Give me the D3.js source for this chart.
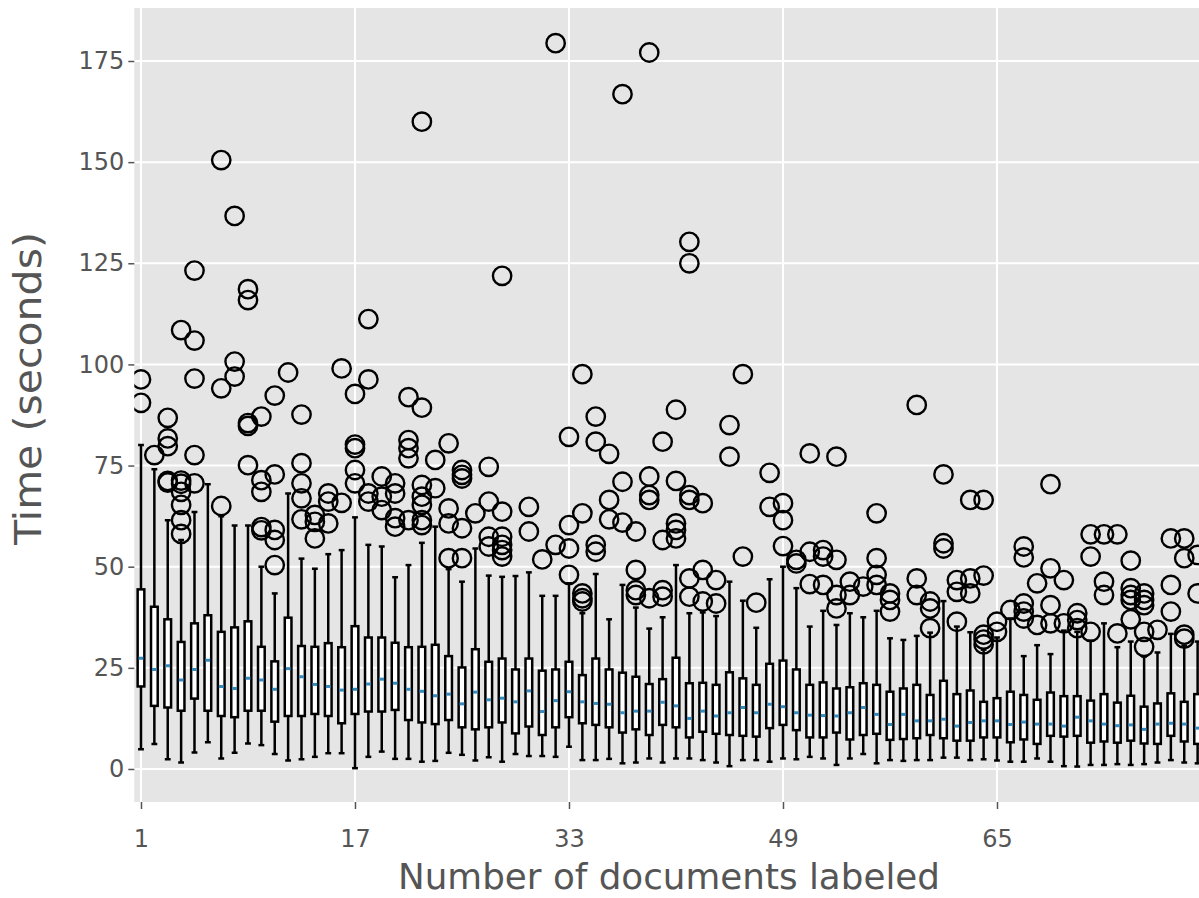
<!DOCTYPE html>
<html><head><meta charset="utf-8">
<script src="https://cdn.jsdelivr.net/npm/d3@7"></script>
<style>body{margin:0;background:#fff}svg{display:block}</style>
</head><body>
<svg id="chart" width="1199" height="898"></svg>
<script>
const positions = d3.range(1, 81);
const whiskerHigh = [80.1,74.1,61.5,56.6,63.5,70.4,62.5,60.2,60.2,50.0,43.4,68.1,52.0,49.5,53.1,54.1,62.2,55.4,55.0,47.4,50.4,55.9,59.9,49.4,46.3,54.5,47.8,47.5,47.7,48.6,42.8,42.8,45.9,38.5,48.2,37.0,45.5,39.9,34.7,37.5,50.4,38.5,38.7,37.8,46.3,41.6,34.9,46.9,50.0,44.7,35.2,39.1,35.6,38.5,37.5,39.1,32.3,31.9,32.9,33.7,41.5,35.2,33.8,29.5,32.5,37.2,27.9,30.6,28.4,34.2,33.9,31.7,36.0,30.1,31.5,27.8,28.8,33.4,30.5,31.5];
const q3 = [44.4,40.1,37.0,31.4,36.0,38.0,33.9,35.0,36.5,30.2,26.6,37.4,30.4,30.2,31.1,30.1,35.3,32.5,32.5,31.2,30.1,30.2,30.7,27.9,25.1,29.6,26.5,27.3,24.6,27.3,24.3,24.6,26.5,23.2,27.3,24.6,23.8,22.8,21.0,22.2,27.5,21.2,21.3,20.8,23.9,22.4,20.8,26.0,26.8,24.6,20.8,21.4,19.9,20.2,21.2,20.8,19.1,19.9,20.8,18.3,21.8,18.5,19.4,16.6,17.5,19.1,18.3,17.1,18.9,18.0,18.0,16.9,18.5,16.4,18.1,15.4,16.2,18.7,16.6,18.5];
const medians = [27.4,24.6,25.5,22.0,24.6,26.9,20.4,19.9,22.4,22.0,19.7,24.8,22.8,20.9,20.4,19.5,19.7,21.0,22.2,21.2,19.7,19.2,18.1,18.5,16.1,19.0,17.1,17.5,16.6,19.3,14.2,16.9,19.1,16.6,16.2,16.0,13.9,14.3,14.3,16.5,15.6,12.5,14.3,13.1,13.9,15.2,13.9,16.0,15.4,13.9,13.3,13.2,13.1,13.9,15.2,13.5,11.0,13.5,11.9,11.9,12.3,10.6,11.5,11.9,11.9,11.0,11.6,11.1,11.1,10.6,12.8,11.9,11.1,10.7,10.9,9.8,11.1,11.3,11.1,10.1];
const q1 = [20.4,15.6,15.2,14.4,17.4,14.4,13.1,12.8,14.4,14.4,11.7,13.1,13.1,13.6,13.1,11.3,13.6,14.2,14.2,14.6,12.1,11.5,11.1,12.1,10.3,9.8,10.3,11.5,8.8,10.5,8.4,10.3,12.8,11.3,10.9,10.3,9.0,9.8,8.4,10.9,10.3,7.8,9.2,8.7,8.4,8.2,8.0,10.1,10.9,9.6,7.8,7.8,9.0,7.3,8.4,8.7,7.2,7.4,7.6,8.4,7.6,7.0,7.0,7.8,7.8,6.6,7.3,6.2,8.2,8.0,8.2,6.5,6.8,6.5,7.0,6.3,6.2,8.2,6.8,6.2];
const whiskerLow = [4.9,6.2,2.4,1.6,4.1,6.6,2.6,4.0,6.3,5.9,3.7,2.1,2.4,3.0,3.9,3.9,0.2,3.0,4.3,2.5,2.5,1.8,2.0,4.0,3.5,2.1,2.9,1.8,3.7,3.2,3.2,3.0,5.5,2.2,2.2,2.5,1.4,1.6,2.6,1.6,2.6,2.6,2.2,1.6,0.7,2.2,2.2,1.8,2.6,2.4,3.0,2.6,1.0,2.6,3.7,1.4,2.2,2.0,2.2,2.2,2.8,2.8,2.2,2.4,2.1,1.8,1.8,2.6,1.8,0.7,0.6,1.0,1.0,1.2,1.0,1.2,1.6,2.2,1.6,1.4];
const outliers = [
  [96.3,90.5],[77.6],[86.8,81.7,79.8,71.2,70.8],[108.5,71.3,70.5,68.5,65.3,61.5,58.1],[123.2,105.9,96.5,77.6,70.6],
  [],[150.5,94.1,65.0],[136.7,100.7,97.0],[118.6,115.9,85.5,84.8,75.1],[87.1,71.4,68.5,59.8,59.0],
  [92.3,72.8,59.1,56.6,50.4],[98.0],[87.6,75.6,70.6,66.9,61.7],[62.8,61.1,57.0],[68.1,66.1,60.7],
  [99.0,65.8],[92.7,80.2,79.3,73.9,70.6],[111.2,96.3,68.1,66.1],[72.3,67.3,64.0],[70.6,68.1,62.0,59.9],
  [91.9,81.3,79.3,76.8,61.5],[160.0,89.3,70.2,67.3,65.3,61.5,60.3],[76.4,69.4],[80.5,64.4,60.7,52.1],[73.9,72.7,71.8,59.5,52.1],
  [63.2],[74.7,66.1,57.4,55.0],[121.9,63.6,57.4,55.4,54.1,52.5],[],[64.8,58.7],
  [51.8],[179.4,55.4],[82.1,60.3,54.5,48.0],[97.6,63.2,43.4,42.2,41.4],[87.1,80.9,55.4,53.7],
  [77.9,66.5,61.7],[166.8,71.0,60.9],[58.7,49.2,44.2,43.0],[177.1,72.3,67.7,66.5,42.2],[80.9,56.6,44.2,42.6],
  [88.8,71.2,60.7,59.1,57.0],[130.3,125.0,67.7,66.5,47.1,42.6],[65.7,49.2,41.4],[46.7,40.9],[85.0,77.2],
  [97.6,52.5],[41.1],[73.2,64.8],[65.7,61.5,55.1],[51.7,50.8],
  [78.0,53.7,45.7],[54.1,52.5,45.5],[77.2,51.7,43.0,39.7],[46.3,43.0],[45.1],
  [63.2,52.1,48.0,45.5],[43.4,41.8,38.9],[],[90.0,47.1,43.0],[41.4,39.7,34.8],
  [72.8,55.8,54.5],[46.7,43.8,36.4],[66.5,47.1,43.4],[66.5,47.8,33.2,32.0,30.8],[36.4,33.9],
  [39.3],[55.0,52.3,40.9,38.9,37.2],[45.9,35.6],[70.4,49.6,40.5,36.0],[46.7,36.0],
  [38.5,36.8,34.8],[58.0,52.5,33.9],[58.0,46.3,43.0],[58.0,33.5],[51.5,44.7,43.0,41.8,37.0],
  [43.4,41.8,40.5,33.9,30.2],[34.4],[57.0,45.5,38.9],[57.0,52.1,33.2,32.2],[52.9,43.4]
];
const xTicks = [1, 17, 33, 49, 65];
const yTicks = [0, 25, 50, 75, 100, 125, 150, 175];
const xLabel = "Number of documents labeled";
const yLabel = "Time (seconds)";

const W = 1199, H = 898;
const pLeft = 134.3, pTop = 8, pBottom = 802, step = 13.375;
const x = d3.scaleLinear().domain([0.5, 80.5]).range([pLeft, pLeft + 80 * step]);
const y = d3.scaleLinear().domain([-8.16, 188.1]).range([pBottom, pTop]);

const svg = d3.select("#chart");
svg.append("defs").append("clipPath").attr("id", "clip")
  .append("rect").attr("x", pLeft).attr("y", pTop).attr("width", W - pLeft).attr("height", pBottom - pTop);

svg.append("rect").attr("x", pLeft).attr("y", pTop).attr("width", W - pLeft).attr("height", pBottom - pTop).attr("fill", "#E5E5E5");

const g = svg.append("g").attr("clip-path", "url(#clip)");
g.selectAll("line.gy").data(yTicks).join("line").attr("class", "gy")
  .attr("x1", pLeft).attr("x2", W).attr("y1", d => y(d)).attr("y2", d => y(d))
  .attr("stroke", "#fff").attr("stroke-width", 2);
g.selectAll("line.gx").data(xTicks).join("line").attr("class", "gx")
  .attr("x1", d => x(d)).attr("x2", d => x(d)).attr("y1", pTop).attr("y2", pBottom)
  .attr("stroke", "#fff").attr("stroke-width", 2);

const lw = 2.5;
const bw = 0.5 * step, cw = 0.25 * step;
const data = positions.map((p, i) => ({p, lo: whiskerLow[i], q1: q1[i], med: medians[i], q3: q3[i], hi: whiskerHigh[i], out: outliers[i]}));
const bg = g.selectAll("g.box").data(data).join("g").attr("class", "box");
bg.append("line").attr("x1", d => x(d.p)).attr("x2", d => x(d.p)).attr("y1", d => y(d.q3)).attr("y2", d => y(d.hi))
  .attr("stroke", "#000").attr("stroke-width", lw);
bg.append("line").attr("x1", d => x(d.p)).attr("x2", d => x(d.p)).attr("y1", d => y(d.q1)).attr("y2", d => y(d.lo))
  .attr("stroke", "#000").attr("stroke-width", lw);
bg.append("line").attr("x1", d => x(d.p) - cw / 2).attr("x2", d => x(d.p) + cw / 2).attr("y1", d => y(d.hi)).attr("y2", d => y(d.hi))
  .attr("stroke", "#000").attr("stroke-width", lw).attr("stroke-linecap", "square");
bg.append("line").attr("x1", d => x(d.p) - cw / 2).attr("x2", d => x(d.p) + cw / 2).attr("y1", d => y(d.lo)).attr("y2", d => y(d.lo))
  .attr("stroke", "#000").attr("stroke-width", lw).attr("stroke-linecap", "square");
bg.append("rect").attr("x", d => x(d.p) - bw / 2).attr("width", bw).attr("y", d => y(d.q3)).attr("height", d => y(d.q1) - y(d.q3))
  .attr("fill", "#fff").attr("stroke", "#000").attr("stroke-width", lw);
bg.append("line").attr("x1", d => x(d.p) - bw / 2 + 1).attr("x2", d => x(d.p) + bw / 2 - 1).attr("y1", d => y(d.med)).attr("y2", d => y(d.med))
  .attr("stroke", "#348ABD").attr("stroke-width", 3);
bg.selectAll("circle").data(d => d.out.map(v => ({p: d.p, v}))).join("circle")
  .attr("cx", d => x(d.p)).attr("cy", d => y(d.v)).attr("r", 9.2)
  .attr("fill", "none").attr("stroke", "#000").attr("stroke-width", 2.4);

const font = "DejaVu Sans";
const xa = svg.append("g").attr("transform", `translate(0,${pBottom})`)
  .call(d3.axisBottom(x).tickValues(xTicks).tickSize(7).tickPadding(21).tickFormat(d3.format("d")));
xa.select(".domain").remove();
xa.selectAll("line").attr("stroke", "#555").attr("stroke-width", 1.5);
xa.selectAll("text").attr("fill", "#555").attr("font-family", font).attr("font-size", 24);
const ya = svg.append("g").attr("transform", `translate(${pLeft},0)`)
  .call(d3.axisLeft(y).tickValues(yTicks).tickSize(6).tickPadding(4));
ya.select(".domain").remove();
ya.selectAll("line").attr("stroke", "#555").attr("stroke-width", 1.5);
ya.selectAll("text").attr("fill", "#555").attr("font-family", font).attr("font-size", 24);

svg.append("text").attr("x", 669).attr("y", 889).attr("text-anchor", "middle")
  .attr("font-family", font).attr("font-size", 35).attr("fill", "#555")
  .attr("textLength", 542).attr("lengthAdjust", "spacingAndGlyphs").text(xLabel);
svg.append("text").attr("transform", `translate(41,388.5) rotate(-90)`).attr("text-anchor", "middle")
  .attr("font-family", font).attr("font-size", 37).attr("fill", "#555")
  .attr("textLength", 313).attr("lengthAdjust", "spacingAndGlyphs").text(yLabel);
</script>
</body></html>
